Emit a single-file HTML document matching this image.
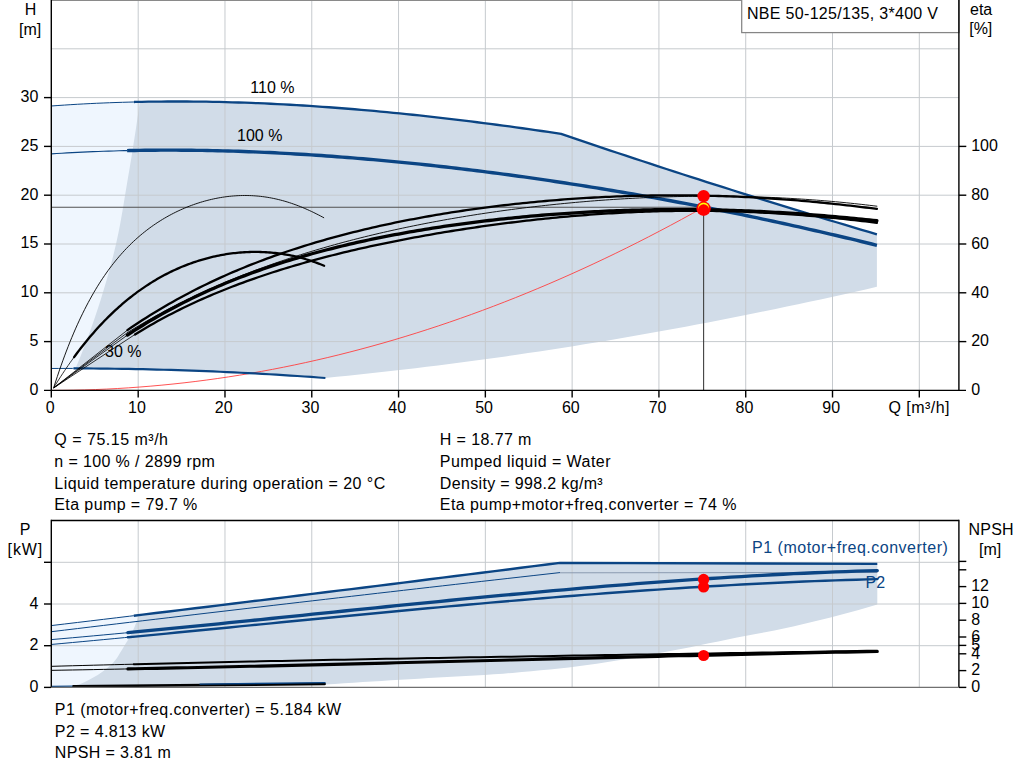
<!DOCTYPE html>
<html><head><meta charset="utf-8"><style>
html,body{margin:0;padding:0;background:#fff;width:1024px;height:781px;overflow:hidden;position:relative;font-family:"Liberation Sans",sans-serif;}
</style></head><body>
<svg width="1024" height="781" viewBox="0 0 1024 781" style="position:absolute;left:0;top:0">
<rect x="0" y="0" width="1024" height="781" fill="#fff"/>
<polygon points="51.50,105.97 57.95,105.51 64.40,105.08 70.85,104.67 77.30,104.28 83.75,103.92 90.20,103.59 96.65,103.28 103.11,103.00 109.56,102.74 116.01,102.51 122.46,102.30 128.91,102.12 135.36,101.96 141.81,101.82 148.26,101.71 150.00,368.60 51.50,368.60" fill="#eff6fe"/>
<polygon points="141.81,101.82 148.26,101.71 154.71,101.62 161.16,101.55 167.61,101.51 174.06,101.48 180.51,101.49 186.96,101.51 193.41,101.56 199.86,101.62 206.32,101.71 212.77,101.82 219.22,101.96 225.67,102.11 232.12,102.28 238.57,102.48 245.02,102.69 251.47,102.93 257.92,103.19 264.37,103.46 270.82,103.75 277.27,104.07 283.72,104.40 290.17,104.75 296.62,105.12 303.07,105.51 309.53,105.92 315.98,106.35 322.43,106.79 328.88,107.25 335.33,107.73 341.78,108.23 348.23,108.74 354.68,109.27 361.13,109.82 367.58,110.38 374.03,110.96 380.48,111.55 386.93,112.16 393.38,112.79 399.83,113.43 406.28,114.09 412.74,114.76 419.19,115.44 425.64,116.14 432.09,116.86 438.54,117.59 444.99,118.33 451.44,119.09 457.89,119.86 464.34,120.64 470.79,121.44 477.24,122.25 483.69,123.07 490.14,123.90 496.59,124.75 503.04,125.60 509.49,126.47 515.95,127.36 522.40,128.25 528.85,129.15 535.30,130.07 541.75,130.99 548.20,131.93 554.65,132.87 561.10,133.83 569.20,136.68 577.29,139.43 585.39,142.16 593.49,144.88 601.59,147.60 609.68,150.30 617.78,153.00 625.88,155.68 633.98,158.36 642.07,161.03 650.17,163.68 658.27,166.33 666.37,168.97 674.46,171.60 682.56,174.22 690.66,176.83 698.76,179.44 706.85,182.03 714.95,184.61 723.05,187.19 731.15,189.75 739.24,192.31 747.34,194.86 755.44,197.39 763.54,199.92 771.63,202.44 779.73,204.95 787.83,207.45 795.93,209.94 804.02,212.42 812.12,214.90 820.22,217.36 828.32,219.81 836.41,222.26 844.51,224.69 852.61,227.12 860.71,229.53 868.80,231.94 876.90,234.34 876.90,287.00 876.90,286.80 865.64,289.38 854.39,291.92 843.13,294.44 831.88,296.93 820.62,299.39 809.37,301.82 798.11,304.23 786.86,306.60 775.60,308.95 764.35,311.27 753.09,313.56 741.84,315.82 730.58,318.05 719.33,320.26 708.07,322.43 696.82,324.58 685.56,326.69 674.31,328.77 663.05,330.83 651.80,332.85 640.54,334.85 629.29,336.81 618.03,338.75 606.78,340.65 595.52,342.52 584.27,344.36 573.01,346.18 561.76,347.96 550.50,349.70 539.25,351.42 527.99,353.11 516.74,354.76 505.48,356.38 494.23,357.97 482.97,359.53 471.72,361.06 460.46,362.55 449.21,364.02 437.95,365.44 426.70,366.84 415.44,368.21 404.19,369.54 392.93,370.83 381.68,372.10 370.42,373.33 359.17,374.53 347.91,375.69 336.66,376.82 325.40,377.92 325.40,377.99 318.38,377.48 311.35,376.97 304.33,376.49 297.31,376.01 290.28,375.55 283.26,375.11 276.24,374.67 269.22,374.26 262.19,373.85 255.17,373.47 248.15,373.09 241.12,372.73 234.10,372.39 227.08,372.06 220.05,371.74 213.03,371.44 206.01,371.15 198.98,370.88 191.96,370.62 184.94,370.38 177.92,370.15 170.89,369.93 163.87,369.73 156.85,369.54 149.82,369.37 142.80,369.21 135.78,369.07 128.75,368.94 121.73,368.83 114.71,368.73 107.68,368.64 100.66,368.57 93.64,368.51 86.62,368.47 79.59,368.44 75.50,368.60 78.31,361.76 81.06,354.92 83.75,348.08 86.36,341.24 88.91,334.39 91.38,327.55 93.78,320.71 96.12,313.87 98.37,307.03 100.56,300.19 102.66,293.35 104.71,286.51 106.71,279.67 108.65,272.83 110.52,265.98 112.33,259.14 114.05,252.30 115.69,245.46 117.23,238.62 118.66,231.78 119.99,224.94 121.24,218.10 122.43,211.26 123.57,204.42 124.69,197.57 125.80,190.73 126.94,183.89 128.11,177.05 129.29,170.21 130.45,163.37 131.56,156.53 132.65,149.69 133.73,142.85 134.80,136.01 135.84,129.16 136.87,122.32 137.87,115.48 138.85,108.64 139.80,101.80" fill="#d1dce8"/>
<g stroke="#c6cace" stroke-width="1" fill="none"><line x1="138.19" y1="0" x2="138.19" y2="390" /><line x1="224.98" y1="0" x2="224.98" y2="390" /><line x1="311.77" y1="0" x2="311.77" y2="390" /><line x1="398.56" y1="0" x2="398.56" y2="390" /><line x1="485.35" y1="0" x2="485.35" y2="390" /><line x1="572.14" y1="0" x2="572.14" y2="390" /><line x1="658.93" y1="0" x2="658.93" y2="390" /><line x1="745.72" y1="0" x2="745.72" y2="390" /><line x1="832.51" y1="0" x2="832.51" y2="390" /><line x1="919.30" y1="0" x2="919.30" y2="390" /><line x1="51" y1="341.60" x2="959" y2="341.60" /><line x1="51" y1="292.80" x2="959" y2="292.80" /><line x1="51" y1="244.00" x2="959" y2="244.00" /><line x1="51" y1="195.20" x2="959" y2="195.20" /><line x1="51" y1="146.40" x2="959" y2="146.40" /><line x1="51" y1="97.60" x2="959" y2="97.60" /><line x1="51" y1="48.80" x2="959" y2="48.80" /></g>
<line x1="51" y1="0.5" x2="959" y2="0.5" stroke="#8a8a8a" stroke-width="1.1"/>
<polyline points="51.40,390.40 62.45,390.35 73.51,390.19 84.56,389.93 95.62,389.56 106.67,389.08 117.73,388.51 128.78,387.82 139.84,387.03 150.89,386.14 161.95,385.14 173.00,384.03 184.06,382.82 195.11,381.51 206.17,380.09 217.22,378.56 228.28,376.93 239.33,375.19 250.38,373.35 261.44,371.40 272.49,369.35 283.55,367.19 294.60,364.93 305.66,362.56 316.71,360.09 327.77,357.51 338.82,354.82 349.88,352.03 360.93,349.14 371.99,346.14 383.04,343.04 394.10,339.83 405.15,336.51 416.20,333.09 427.26,329.56 438.31,325.93 449.37,322.20 460.42,318.35 471.48,314.41 482.53,310.35 493.59,306.20 504.64,301.93 515.70,297.57 526.75,293.09 537.81,288.51 548.86,283.83 559.92,279.04 570.97,274.15 582.03,269.15 593.08,264.04 604.13,258.83 615.19,253.52 626.24,248.10 637.30,242.57 648.35,236.94 659.41,231.20 670.46,225.36 681.52,219.41 692.57,213.36 703.63,207.20" fill="none" stroke="#ff4040" stroke-width="0.9"/>
<line x1="51" y1="207.3" x2="703.5" y2="207.3" stroke="#505050" stroke-width="1.1"/>
<line x1="703.6" y1="207.3" x2="703.6" y2="390" stroke="#404040" stroke-width="1.1"/>
<polyline points="51.50,105.97 57.95,105.51 64.40,105.08 70.85,104.67 77.30,104.28 83.75,103.92 90.20,103.59 96.65,103.28 103.11,103.00 109.56,102.74 116.01,102.51 122.46,102.30 128.91,102.12 134.00,101.99" fill="none" stroke="#0b4584" stroke-width="1.0"/>
<polyline points="134.00,101.99 135.36,101.96 141.81,101.82 148.26,101.71 154.71,101.62 161.16,101.55 167.61,101.51 174.06,101.48 180.51,101.49 186.96,101.51 193.41,101.56 199.86,101.62 206.32,101.71 212.77,101.82 219.22,101.96 225.67,102.11 232.12,102.28 238.57,102.48 245.02,102.69 251.47,102.93 257.92,103.19 264.37,103.46 270.82,103.75 277.27,104.07 283.72,104.40 290.17,104.75 296.62,105.12 303.07,105.51 309.53,105.92 315.98,106.35 322.43,106.79 328.88,107.25 335.33,107.73 341.78,108.23 348.23,108.74 354.68,109.27 361.13,109.82 367.58,110.38 374.03,110.96 380.48,111.55 386.93,112.16 393.38,112.79 399.83,113.43 406.28,114.09 412.74,114.76 419.19,115.44 425.64,116.14 432.09,116.86 438.54,117.59 444.99,118.33 451.44,119.09 457.89,119.86 464.34,120.64 470.79,121.44 477.24,122.25 483.69,123.07 490.14,123.90 496.59,124.75 503.04,125.60 509.49,126.47 515.95,127.36 522.40,128.25 528.85,129.15 535.30,130.07 541.75,130.99 548.20,131.93 554.65,132.87 561.10,133.83 569.20,136.68 577.29,139.43 585.39,142.16 593.49,144.88 601.59,147.60 609.68,150.30 617.78,153.00 625.88,155.68 633.98,158.36 642.07,161.03 650.17,163.68 658.27,166.33 666.37,168.97 674.46,171.60 682.56,174.22 690.66,176.83 698.76,179.44 706.85,182.03 714.95,184.61 723.05,187.19 731.15,189.75 739.24,192.31 747.34,194.86 755.44,197.39 763.54,199.92 771.63,202.44 779.73,204.95 787.83,207.45 795.93,209.94 804.02,212.42 812.12,214.90 820.22,217.36 828.32,219.81 836.41,222.26 844.51,224.69 852.61,227.12 860.71,229.53 868.80,231.94 876.90,234.34" fill="none" stroke="#0b4584" stroke-width="2.3" stroke-linejoin="round"/>
<polyline points="51.50,153.84 56.69,153.51 61.88,153.19 67.07,152.90 72.26,152.62 77.46,152.35 82.65,152.10 87.84,151.87 93.03,151.65 98.22,151.45 103.41,151.26 108.60,151.09 113.79,150.93 118.99,150.79 124.18,150.66 127.10,150.60" fill="none" stroke="#0b4584" stroke-width="1.1"/>
<polyline points="127.10,150.60 129.37,150.55 134.56,150.45 139.75,150.36 144.94,150.29 150.13,150.24 155.32,150.20 160.52,150.17 165.71,150.15 170.90,150.15 176.09,150.16 181.28,150.19 186.47,150.23 191.66,150.28 196.85,150.34 202.04,150.42 207.24,150.51 212.43,150.62 217.62,150.73 222.81,150.86 228.00,151.00 233.19,151.16 238.38,151.32 243.57,151.50 248.77,151.69 253.96,151.90 259.15,152.11 264.34,152.34 269.53,152.57 274.72,152.82 279.91,153.08 285.10,153.36 290.29,153.64 295.49,153.93 300.68,154.24 305.87,154.56 311.06,154.88 316.25,155.22 321.44,155.57 326.63,155.93 331.82,156.31 337.02,156.69 342.21,157.08 347.40,157.48 352.59,157.90 357.78,158.32 362.97,158.75 368.16,159.20 373.35,159.65 378.55,160.11 383.74,160.59 388.93,161.07 394.12,161.57 399.31,162.07 404.50,162.58 409.69,163.11 414.88,163.64 420.07,164.18 425.27,164.73 430.46,165.29 435.65,165.86 440.84,166.44 446.03,167.03 451.22,167.63 456.41,168.24 461.60,168.85 466.80,169.48 471.99,170.11 477.18,170.75 482.37,171.41 487.56,172.07 492.75,172.74 497.94,173.42 503.13,174.10 508.33,174.80 513.52,175.50 518.71,176.22 523.90,176.94 529.09,177.67 534.28,178.41 539.47,179.16 544.66,179.91 549.85,180.68 555.05,181.45 560.24,182.23 565.43,183.02 570.62,183.82 575.81,184.62 581.00,185.44 586.19,186.26 591.38,187.09 596.58,187.93 601.77,188.78 606.96,189.63 612.15,190.50 617.34,191.37 622.53,192.25 627.72,193.14 632.91,194.03 638.11,194.94 643.30,195.85 648.49,196.77 653.68,197.70 658.87,198.63 664.06,199.58 669.25,200.53 674.44,201.49 679.63,202.46 684.83,203.43 690.02,204.42 695.21,205.41 700.40,206.41 705.59,207.42 710.78,208.44 715.97,209.46 721.16,210.49 726.36,211.54 731.55,212.58 736.74,213.64 741.93,214.71 747.12,215.78 752.31,216.86 757.50,217.95 762.69,219.05 767.88,220.15 773.08,221.27 778.27,222.39 783.46,223.52 788.65,224.66 793.84,225.81 799.03,226.96 804.22,228.12 809.41,229.30 814.61,230.48 819.80,231.66 824.99,232.86 830.18,234.07 835.37,235.28 840.56,236.50 845.75,237.73 850.94,238.97 856.14,240.22 861.33,241.48 866.52,242.74 871.71,244.02 876.90,245.30" fill="none" stroke="#0b4584" stroke-width="3.4"/>
<polyline points="51.50,368.47 58.52,368.44 65.55,368.43 72.57,368.43 73.50,368.43" fill="none" stroke="#0b4584" stroke-width="1.0"/>
<polyline points="73.50,368.43 79.59,368.44 86.62,368.47 93.64,368.51 100.66,368.57 107.68,368.64 114.71,368.73 121.73,368.83 128.75,368.94 135.78,369.07 142.80,369.21 149.82,369.37 156.85,369.54 163.87,369.73 170.89,369.93 177.92,370.15 184.94,370.38 191.96,370.62 198.98,370.88 206.01,371.15 213.03,371.44 220.05,371.74 227.08,372.06 234.10,372.39 241.12,372.73 248.15,373.09 255.17,373.47 262.19,373.85 269.22,374.26 276.24,374.67 283.26,375.11 290.28,375.55 297.31,376.01 304.33,376.49 311.35,376.97 318.38,377.48 325.40,377.99" fill="none" stroke="#0b4584" stroke-width="2.2"/>
<line x1="53.7" y1="387.9" x2="127.40" y2="330.14" stroke="#000" stroke-width="0.8"/>
<polyline points="127.40,330.14 131.17,327.56 134.93,325.02 138.70,322.53 142.47,320.07 146.23,317.66 150.00,315.29 153.76,312.96 157.53,310.67 161.30,308.42 165.06,306.20 168.83,304.03 172.60,301.89 176.36,299.78 180.13,297.72 183.89,295.68 187.66,293.68 191.43,291.72 195.19,289.79 198.96,287.89 202.73,286.02 206.49,284.19 210.26,282.38 214.03,280.61 217.79,278.86 221.56,277.15 225.32,275.46 229.09,273.80 232.86,272.17 236.62,270.57 240.39,269.00 244.16,267.45 247.92,265.92 251.69,264.43 255.46,262.95 259.22,261.51 262.99,260.08 266.75,258.68 270.52,257.30 274.29,255.95 278.05,254.62 281.82,253.31 285.59,252.02 289.35,250.76 293.12,249.51 296.88,248.29 300.65,247.09 304.42,245.90 308.18,244.74 311.95,243.60 315.72,242.47 319.48,241.36 323.25,240.28 327.02,239.21 330.78,238.15 334.55,237.12 338.31,236.10 342.08,235.10 345.85,234.12 349.61,233.15 353.38,232.20 357.15,231.26 360.91,230.35 364.68,229.44 368.45,228.55 372.21,227.68 375.98,226.82 379.74,225.98 383.51,225.15 387.28,224.33 391.04,223.53 394.81,222.74 398.58,221.97 402.34,221.21 406.11,220.46 409.87,219.73 413.64,219.01 417.41,218.30 421.17,217.60 424.94,216.92 428.71,216.25 432.47,215.59 436.24,214.95 440.01,214.31 443.77,213.69 447.54,213.08 451.30,212.48 455.07,211.89 458.84,211.32 462.60,210.75 466.37,210.20 470.14,209.65 473.90,209.12 477.67,208.60 481.44,208.09 485.20,207.59 488.97,207.10 492.73,206.62 496.50,206.16 500.27,205.70 504.03,205.25 507.80,204.81 511.57,204.39 515.33,203.97 519.10,203.57 522.86,203.17 526.63,202.78 530.40,202.41 534.16,202.04 537.93,201.69 541.70,201.34 545.46,201.00 549.23,200.68 553.00,200.36 556.76,200.05 560.53,199.76 564.29,199.47 568.06,199.19 571.83,198.92 575.59,198.67 579.36,198.42 583.13,198.18 586.89,197.95 590.66,197.73 594.43,197.52 598.19,197.32 601.96,197.13 605.72,196.95 609.49,196.78 613.26,196.61 617.02,196.46 620.79,196.32 624.56,196.19 628.32,196.06 632.09,195.95 635.85,195.84 639.62,195.75 643.39,195.66 647.15,195.59 650.92,195.52 654.69,195.47 658.45,195.42 662.22,195.38 665.99,195.36 669.75,195.34 673.52,195.33 677.28,195.33 681.05,195.34 684.82,195.36 688.58,195.39 692.35,195.44 696.12,195.49 699.88,195.54 703.65,195.61 707.42,195.69 711.18,195.78 714.95,195.88 718.71,195.99 722.48,196.11 726.25,196.23 730.01,196.37 733.78,196.52 737.55,196.67 741.31,196.84 745.08,197.01 748.84,197.20 752.61,197.39 756.38,197.60 760.14,197.81 763.91,198.03 767.68,198.27 771.44,198.51 775.21,198.76 778.98,199.02 782.74,199.29 786.51,199.57 790.27,199.86 794.04,200.16 797.81,200.47 801.57,200.78 805.34,201.11 809.11,201.44 812.87,201.79 816.64,202.14 820.41,202.50 824.17,202.87 827.94,203.25 831.70,203.64 835.47,204.04 839.24,204.44 843.00,204.85 846.77,205.28 850.54,205.71 854.30,206.14 858.07,206.59 861.83,207.04 865.60,207.51 869.37,207.98 873.13,208.45 876.90,208.94" fill="none" stroke="#000" stroke-width="2.3" stroke-linecap="round"/>
<line x1="53.7" y1="387.9" x2="127.40" y2="332.61" stroke="#000" stroke-width="0.8"/>
<polyline points="127.40,332.61 131.17,330.29 134.93,328.01 138.70,325.76 142.47,323.55 146.23,321.37 150.00,319.22 153.76,317.10 157.53,315.01 161.30,312.96 165.06,310.93 168.83,308.94 172.60,306.97 176.36,305.04 180.13,303.13 183.89,301.25 187.66,299.39 191.43,297.57 195.19,295.77 198.96,294.00 202.73,292.25 206.49,290.53 210.26,288.83 214.03,287.16 217.79,285.51 221.56,283.89 225.32,282.29 229.09,280.71 232.86,279.16 236.62,277.63 240.39,276.12 244.16,274.64 247.92,273.17 251.69,271.73 255.46,270.30 259.22,268.90 262.99,267.52 266.75,266.16 270.52,264.81 274.29,263.49 278.05,262.18 281.82,260.90 285.59,259.63 289.35,258.38 293.12,257.15 296.88,255.94 300.65,254.74 304.42,253.56 308.18,252.40 311.95,251.25 315.72,250.13 319.48,249.01 323.25,247.92 327.02,246.83 330.78,245.77 334.55,244.72 338.31,243.68 342.08,242.66 345.85,241.65 349.61,240.66 353.38,239.69 357.15,238.72 360.91,237.77 364.68,236.84 368.45,235.91 372.21,235.01 375.98,234.11 379.74,233.23 383.51,232.36 387.28,231.50 391.04,230.65 394.81,229.82 398.58,229.00 402.34,228.19 406.11,227.40 409.87,226.61 413.64,225.84 417.41,225.08 421.17,224.33 424.94,223.59 428.71,222.86 432.47,222.15 436.24,221.44 440.01,220.75 443.77,220.07 447.54,219.39 451.30,218.73 455.07,218.08 458.84,217.44 462.60,216.81 466.37,216.19 470.14,215.58 473.90,214.98 477.67,214.39 481.44,213.81 485.20,213.24 488.97,212.68 492.73,212.13 496.50,211.58 500.27,211.05 504.03,210.53 507.80,210.02 511.57,209.52 515.33,209.03 519.10,208.54 522.86,208.07 526.63,207.60 530.40,207.15 534.16,206.70 537.93,206.27 541.70,205.84 545.46,205.42 549.23,205.01 553.00,204.61 556.76,204.22 560.53,203.84 564.29,203.47 568.06,203.11 571.83,202.75 575.59,202.41 579.36,202.07 583.13,201.75 586.89,201.43 590.66,201.12 594.43,200.82 598.19,200.53 601.96,200.25 605.72,199.98 609.49,199.72 613.26,199.47 617.02,199.22 620.79,198.99 624.56,198.76 628.32,198.55 632.09,198.34 635.85,198.14 639.62,197.95 643.39,197.77 647.15,197.60 650.92,197.44 654.69,197.29 658.45,197.15 662.22,197.02 665.99,196.90 669.75,196.78 673.52,196.68 677.28,196.59 681.05,196.50 684.82,196.43 688.58,196.36 692.35,196.31 696.12,196.26 699.88,196.23 703.65,196.20 707.42,196.18 711.18,196.18 714.95,196.18 718.71,196.19 722.48,196.22 726.25,196.25 730.01,196.29 733.78,196.35 737.55,196.41 741.31,196.48 745.08,196.57 748.84,196.66 752.61,196.77 756.38,196.88 760.14,197.01 763.91,197.14 767.68,197.29 771.44,197.45 775.21,197.61 778.98,197.79 782.74,197.98 786.51,198.18 790.27,198.39 794.04,198.61 797.81,198.84 801.57,199.08 805.34,199.33 809.11,199.59 812.87,199.87 816.64,200.15 820.41,200.45 824.17,200.75 827.94,201.07 831.70,201.40 835.47,201.74 839.24,202.09 843.00,202.45 846.77,202.82 850.54,203.20 854.30,203.60 858.07,204.01 861.83,204.42 865.60,204.85 869.37,205.29 873.13,205.74 876.90,206.20" fill="none" stroke="#000" stroke-width="0.9" stroke-linecap="round"/>
<line x1="53.7" y1="387.9" x2="127.40" y2="335.13" stroke="#000" stroke-width="0.8"/>
<polyline points="127.40,335.13 131.17,332.65 134.93,330.23 138.70,327.85 142.47,325.50 146.23,323.21 150.00,320.95 153.76,318.73 157.53,316.55 161.30,314.41 165.06,312.31 168.83,310.24 172.60,308.22 176.36,306.23 180.13,304.27 183.89,302.35 187.66,300.46 191.43,298.61 195.19,296.79 198.96,295.00 202.73,293.24 206.49,291.52 210.26,289.82 214.03,288.16 217.79,286.52 221.56,284.91 225.32,283.34 229.09,281.79 232.86,280.26 236.62,278.77 240.39,277.30 244.16,275.85 247.92,274.43 251.69,273.04 255.46,271.67 259.22,270.33 262.99,269.00 266.75,267.71 270.52,266.43 274.29,265.18 278.05,263.94 281.82,262.73 285.59,261.54 289.35,260.38 293.12,259.23 296.88,258.10 300.65,256.99 304.42,255.90 308.18,254.83 311.95,253.78 315.72,252.74 319.48,251.73 323.25,250.73 327.02,249.75 330.78,248.78 334.55,247.83 338.31,246.90 342.08,245.99 345.85,245.09 349.61,244.20 353.38,243.33 357.15,242.48 360.91,241.64 364.68,240.82 368.45,240.01 372.21,239.21 375.98,238.43 379.74,237.66 383.51,236.90 387.28,236.16 391.04,235.43 394.81,234.72 398.58,234.01 402.34,233.32 406.11,232.64 409.87,231.97 413.64,231.32 417.41,230.68 421.17,230.04 424.94,229.42 428.71,228.82 432.47,228.22 436.24,227.63 440.01,227.05 443.77,226.49 447.54,225.93 451.30,225.39 455.07,224.86 458.84,224.33 462.60,223.82 466.37,223.32 470.14,222.82 473.90,222.34 477.67,221.87 481.44,221.40 485.20,220.95 488.97,220.50 492.73,220.07 496.50,219.64 500.27,219.23 504.03,218.82 507.80,218.42 511.57,218.03 515.33,217.65 519.10,217.28 522.86,216.92 526.63,216.57 530.40,216.23 534.16,215.89 537.93,215.57 541.70,215.25 545.46,214.94 549.23,214.64 553.00,214.35 556.76,214.07 560.53,213.80 564.29,213.53 568.06,213.28 571.83,213.03 575.59,212.79 579.36,212.56 583.13,212.34 586.89,212.12 590.66,211.92 594.43,211.72 598.19,211.54 601.96,211.36 605.72,211.19 609.49,211.02 613.26,210.87 617.02,210.73 620.79,210.59 624.56,210.46 628.32,210.34 632.09,210.23 635.85,210.13 639.62,210.03 643.39,209.95 647.15,209.87 650.92,209.80 654.69,209.74 658.45,209.69 662.22,209.65 665.99,209.61 669.75,209.59 673.52,209.57 677.28,209.56 681.05,209.56 684.82,209.57 688.58,209.59 692.35,209.61 696.12,209.64 699.88,209.69 703.65,209.74 707.42,209.80 711.18,209.86 714.95,209.94 718.71,210.02 722.48,210.12 726.25,210.22 730.01,210.33 733.78,210.45 737.55,210.57 741.31,210.71 745.08,210.85 748.84,211.00 752.61,211.16 756.38,211.33 760.14,211.51 763.91,211.69 767.68,211.89 771.44,212.09 775.21,212.30 778.98,212.51 782.74,212.74 786.51,212.97 790.27,213.21 794.04,213.46 797.81,213.72 801.57,213.98 805.34,214.25 809.11,214.53 812.87,214.82 816.64,215.11 820.41,215.42 824.17,215.73 827.94,216.04 831.70,216.37 835.47,216.70 839.24,217.03 843.00,217.38 846.77,217.73 850.54,218.09 854.30,218.45 858.07,218.82 861.83,219.20 865.60,219.58 869.37,219.97 873.13,220.36 876.90,220.76" fill="none" stroke="#000" stroke-width="3.3" stroke-linecap="round"/>
<line x1="53.7" y1="387.9" x2="135.00" y2="334.45" stroke="#000" stroke-width="0.8"/>
<polyline points="135.00,334.45 138.73,332.17 142.46,329.92 146.18,327.72 149.91,325.56 153.64,323.44 157.37,321.36 161.10,319.31 164.83,317.31 168.55,315.34 172.28,313.40 176.01,311.50 179.74,309.64 183.47,307.81 187.19,306.01 190.92,304.25 194.65,302.51 198.38,300.81 202.11,299.14 205.83,297.49 209.56,295.88 213.29,294.29 217.02,292.73 220.75,291.20 224.48,289.70 228.20,288.22 231.93,286.76 235.66,285.33 239.39,283.93 243.12,282.55 246.84,281.19 250.57,279.85 254.30,278.54 258.03,277.24 261.76,275.97 265.48,274.72 269.21,273.49 272.94,272.28 276.67,271.08 280.40,269.91 284.13,268.76 287.85,267.62 291.58,266.50 295.31,265.40 299.04,264.31 302.77,263.24 306.49,262.19 310.22,261.16 313.95,260.13 317.68,259.13 321.41,258.14 325.14,257.16 328.86,256.20 332.59,255.25 336.32,254.31 340.05,253.39 343.78,252.49 347.50,251.59 351.23,250.71 354.96,249.84 358.69,248.98 362.42,248.13 366.14,247.30 369.87,246.48 373.60,245.67 377.33,244.87 381.06,244.08 384.79,243.30 388.51,242.53 392.24,241.77 395.97,241.03 399.70,240.29 403.43,239.57 407.15,238.85 410.88,238.14 414.61,237.45 418.34,236.76 422.07,236.08 425.79,235.41 429.52,234.76 433.25,234.11 436.98,233.47 440.71,232.84 444.44,232.21 448.16,231.60 451.89,231.00 455.62,230.40 459.35,229.81 463.08,229.24 466.80,228.67 470.53,228.11 474.26,227.55 477.99,227.01 481.72,226.48 485.45,225.95 489.17,225.43 492.90,224.92 496.63,224.42 500.36,223.93 504.09,223.45 507.81,222.97 511.54,222.50 515.27,222.05 519.00,221.60 522.73,221.16 526.45,220.72 530.18,220.30 533.91,219.89 537.64,219.48 541.37,219.08 545.10,218.69 548.82,218.31 552.55,217.94 556.28,217.58 560.01,217.23 563.74,216.88 567.46,216.55 571.19,216.22 574.92,215.90 578.65,215.59 582.38,215.30 586.11,215.01 589.83,214.72 593.56,214.45 597.29,214.19 601.02,213.94 604.75,213.69 608.47,213.46 612.20,213.24 615.93,213.02 619.66,212.82 623.39,212.62 627.11,212.44 630.84,212.26 634.57,212.09 638.30,211.94 642.03,211.79 645.76,211.65 649.48,211.53 653.21,211.41 656.94,211.31 660.67,211.21 664.40,211.12 668.12,211.05 671.85,210.98 675.58,210.93 679.31,210.88 683.04,210.85 686.76,210.83 690.49,210.81 694.22,210.81 697.95,210.82 701.68,210.83 705.41,210.86 709.13,210.90 712.86,210.95 716.59,211.01 720.32,211.08 724.05,211.16 727.77,211.25 731.50,211.35 735.23,211.46 738.96,211.58 742.69,211.72 746.42,211.86 750.14,212.01 753.87,212.17 757.60,212.35 761.33,212.53 765.06,212.73 768.78,212.93 772.51,213.14 776.24,213.37 779.97,213.60 783.70,213.84 787.42,214.10 791.15,214.36 794.88,214.63 798.61,214.91 802.34,215.21 806.07,215.51 809.79,215.81 813.52,216.13 817.25,216.46 820.98,216.80 824.71,217.14 828.43,217.49 832.16,217.85 835.89,218.22 839.62,218.60 843.35,218.98 847.07,219.37 850.80,219.77 854.53,220.18 858.26,220.59 861.99,221.01 865.72,221.44 869.44,221.87 873.17,222.31 876.90,222.75" fill="none" stroke="#000" stroke-width="2.3" stroke-linecap="round"/>
<polyline points="53.70,387.72 55.51,382.04 57.33,376.51 59.14,371.13 60.96,365.90 62.77,360.81 64.59,355.86 66.40,351.05 68.22,346.37 70.03,341.81 71.85,337.38 73.66,333.08 75.48,328.89 77.29,324.81 79.11,320.85 80.92,317.00 82.74,313.26 84.55,309.61 86.37,306.07 88.18,302.63 90.00,299.28 91.81,296.02 93.62,292.85 95.44,289.77 97.25,286.78 99.07,283.86 100.88,281.03 102.70,278.28 104.51,275.60 106.33,272.99 108.14,270.46 109.96,267.99 111.77,265.59 113.59,263.26 115.40,260.99 117.22,258.79 119.03,256.64 120.85,254.55 122.66,252.52 124.48,250.54 126.29,248.62 128.11,246.74 129.92,244.92 131.73,243.15 133.55,241.42 135.36,239.75 137.18,238.11 138.99,236.52 140.81,234.97 142.62,233.47 144.44,232.00 146.25,230.58 148.07,229.19 149.88,227.84 151.70,226.52 153.51,225.24 155.33,224.00 157.14,222.79 158.96,221.61 160.77,220.47 162.59,219.35 164.40,218.27 166.22,217.21 168.03,216.19 169.84,215.20 171.66,214.23 173.47,213.29 175.29,212.38 177.10,211.49 178.92,210.64 180.73,209.80 182.55,209.00 184.36,208.22 186.18,207.46 187.99,206.73 189.81,206.02 191.62,205.34 193.44,204.68 195.25,204.04 197.07,203.43 198.88,202.84 200.70,202.28 202.51,201.73 204.33,201.21 206.14,200.72 207.96,200.24 209.77,199.79 211.58,199.36 213.40,198.95 215.21,198.57 217.03,198.21 218.84,197.87 220.66,197.55 222.47,197.26 224.29,196.98 226.10,196.73 227.92,196.51 229.73,196.30 231.55,196.12 233.36,195.96 235.18,195.83 236.99,195.71 238.81,195.62 240.62,195.55 242.44,195.51 244.25,195.49 246.07,195.49 247.88,195.52 249.69,195.57 251.51,195.64 253.32,195.74 255.14,195.86 256.95,196.00 258.77,196.17 260.58,196.36 262.40,196.58 264.21,196.82 266.03,197.08 267.84,197.37 269.66,197.68 271.47,198.02 273.29,198.38 275.10,198.77 276.92,199.18 278.73,199.61 280.55,200.07 282.36,200.55 284.18,201.05 285.99,201.58 287.80,202.14 289.62,202.71 291.43,203.32 293.25,203.94 295.06,204.59 296.88,205.26 298.69,205.95 300.51,206.67 302.32,207.41 304.14,208.17 305.95,208.95 307.77,209.75 309.58,210.58 311.40,211.42 313.21,212.29 315.03,213.18 316.84,214.08 318.66,215.01 320.47,215.95 322.29,216.91 324.10,217.89" fill="none" stroke="#000" stroke-width="0.9"/>
<polyline points="53.70,387.90 53.70,387.74 55.51,384.78 57.33,381.88 59.14,379.02 60.96,376.20 62.77,373.43 64.59,370.70 66.40,368.02 68.22,365.38 70.03,362.78 71.85,360.22 73.66,357.71 74.10,357.11" fill="none" stroke="#000" stroke-width="0.8"/>
<polyline points="74.10,357.11 75.48,355.23 77.29,352.80 79.11,350.40 80.92,348.05 82.74,345.73 84.55,343.45 86.37,341.22 88.18,339.01 90.00,336.85 91.81,334.72 93.62,332.63 95.44,330.57 97.25,328.55 99.07,326.57 100.88,324.61 102.70,322.70 104.51,320.81 106.33,318.96 108.14,317.14 109.96,315.36 111.77,313.61 113.59,311.88 115.40,310.19 117.22,308.53 119.03,306.90 120.85,305.30 122.66,303.73 124.48,302.19 126.29,300.68 128.11,299.20 129.92,297.74 131.73,296.32 133.55,294.92 135.36,293.55 137.18,292.20 138.99,290.88 140.81,289.59 142.62,288.33 144.44,287.09 146.25,285.87 148.07,284.68 149.88,283.52 151.70,282.38 153.51,281.27 155.33,280.17 157.14,279.11 158.96,278.06 160.77,277.04 162.59,276.05 164.40,275.07 166.22,274.12 168.03,273.19 169.84,272.29 171.66,271.40 173.47,270.54 175.29,269.70 177.10,268.88 178.92,268.08 180.73,267.30 182.55,266.54 184.36,265.81 186.18,265.09 187.99,264.40 189.81,263.72 191.62,263.07 193.44,262.43 195.25,261.81 197.07,261.22 198.88,260.64 200.70,260.08 202.51,259.54 204.33,259.03 206.14,258.52 207.96,258.04 209.77,257.58 211.58,257.14 213.40,256.71 215.21,256.30 217.03,255.91 218.84,255.54 220.66,255.19 222.47,254.86 224.29,254.54 226.10,254.24 227.92,253.96 229.73,253.70 231.55,253.46 233.36,253.23 235.18,253.02 236.99,252.83 238.81,252.66 240.62,252.51 242.44,252.37 244.25,252.25 246.07,252.15 247.88,252.07 249.69,252.01 251.51,251.96 253.32,251.93 255.14,251.92 256.95,251.93 258.77,251.95 260.58,252.00 262.40,252.06 264.21,252.14 266.03,252.24 267.84,252.35 269.66,252.49 271.47,252.64 273.29,252.81 275.10,253.01 276.92,253.22 278.73,253.44 280.55,253.69 282.36,253.96 284.18,254.25 285.99,254.55 287.80,254.88 289.62,255.23 291.43,255.59 293.25,255.98 295.06,256.38 296.88,256.81 298.69,257.26 300.51,257.72 302.32,258.21 304.14,258.72 305.95,259.25 307.77,259.80 309.58,260.38 311.40,260.97 313.21,261.59 315.03,262.23 316.84,262.90 318.66,263.58 320.47,264.29 322.29,265.02 324.10,265.78" fill="none" stroke="#000" stroke-width="2.3" stroke-linecap="round"/>
<circle cx="703.6" cy="208.6" r="7.2" fill="#f00"/>
<circle cx="703.6" cy="207.8" r="5.4" fill="#ff0"/>
<circle cx="703.6" cy="209.9" r="5.6" fill="#f00"/>
<circle cx="703.6" cy="196.1" r="6.2" fill="#f00"/>
<rect x="741.7" y="-1" width="217.3" height="33.6" fill="#fff" stroke="#858585" stroke-width="1.25"/>
<g stroke="#000" stroke-width="1.4" fill="none">
<line x1="51.3" y1="0" x2="51.3" y2="397.5"/>
<line x1="44" y1="390.4" x2="966" y2="390.4"/>
<line x1="958.9" y1="0" x2="958.9" y2="390.4"/>
<line x1="44" y1="341.60" x2="51.4" y2="341.60"/>
<line x1="44" y1="292.80" x2="51.4" y2="292.80"/>
<line x1="44" y1="244.00" x2="51.4" y2="244.00"/>
<line x1="44" y1="195.20" x2="51.4" y2="195.20"/>
<line x1="44" y1="146.40" x2="51.4" y2="146.40"/>
<line x1="44" y1="97.60" x2="51.4" y2="97.60"/>
<line x1="958.9" y1="341.60" x2="966.3" y2="341.60"/>
<line x1="958.9" y1="292.80" x2="966.3" y2="292.80"/>
<line x1="958.9" y1="244.00" x2="966.3" y2="244.00"/>
<line x1="958.9" y1="195.20" x2="966.3" y2="195.20"/>
<line x1="958.9" y1="146.40" x2="966.3" y2="146.40"/>
<line x1="138.19" y1="390" x2="138.19" y2="397.5"/>
<line x1="224.98" y1="390" x2="224.98" y2="397.5"/>
<line x1="311.77" y1="390" x2="311.77" y2="397.5"/>
<line x1="398.56" y1="390" x2="398.56" y2="397.5"/>
<line x1="485.35" y1="390" x2="485.35" y2="397.5"/>
<line x1="572.14" y1="390" x2="572.14" y2="397.5"/>
<line x1="658.93" y1="390" x2="658.93" y2="397.5"/>
<line x1="745.72" y1="390" x2="745.72" y2="397.5"/>
<line x1="832.51" y1="390" x2="832.51" y2="397.5"/>
<line x1="919.30" y1="390" x2="919.30" y2="397.5"/>
</g>
<g font-family="Liberation Sans, sans-serif" font-size="16">
<text x="24.8" y="14.8" fill="#000" >H</text>
<text x="19.1" y="34.5" fill="#000" >[m]</text>
<text x="38.3" y="394.70" text-anchor="end" fill="#000" >0</text>
<text x="38.3" y="345.90" text-anchor="end" fill="#000" >5</text>
<text x="38.3" y="297.10" text-anchor="end" fill="#000" >10</text>
<text x="38.3" y="248.30" text-anchor="end" fill="#000" >15</text>
<text x="38.3" y="199.50" text-anchor="end" fill="#000" >20</text>
<text x="38.3" y="150.70" text-anchor="end" fill="#000" >25</text>
<text x="38.3" y="101.90" text-anchor="end" fill="#000" >30</text>
<text x="970" y="14.6" fill="#000" >eta</text>
<text x="969.2" y="34.3" fill="#000" >[%]</text>
<text x="971.2" y="395.20" fill="#000" >0</text>
<text x="971.2" y="346.40" fill="#000" >20</text>
<text x="971.2" y="297.60" fill="#000" >40</text>
<text x="971.2" y="248.80" fill="#000" >60</text>
<text x="971.2" y="200.00" fill="#000" >80</text>
<text x="971.2" y="151.20" fill="#000" >100</text>
<text x="50.10" y="413" text-anchor="middle" fill="#000" >0</text>
<text x="136.89" y="413" text-anchor="middle" fill="#000" >10</text>
<text x="223.68" y="413" text-anchor="middle" fill="#000" >20</text>
<text x="310.47" y="413" text-anchor="middle" fill="#000" >30</text>
<text x="397.26" y="413" text-anchor="middle" fill="#000" >40</text>
<text x="484.05" y="413" text-anchor="middle" fill="#000" >50</text>
<text x="570.84" y="413" text-anchor="middle" fill="#000" >60</text>
<text x="657.63" y="413" text-anchor="middle" fill="#000" >70</text>
<text x="744.42" y="413" text-anchor="middle" fill="#000" >80</text>
<text x="831.21" y="413" text-anchor="middle" fill="#000" >90</text>
<text x="888.5" y="413" textLength="61" lengthAdjust="spacing" fill="#000" >Q [m³/h]</text>
<text x="250.3" y="92.7" fill="#000" >110 %</text>
<text x="237.0" y="140.7" fill="#000" >100 %</text>
<text x="105" y="357" fill="#000" >30 %</text>
</g>
<g font-family="Liberation Sans, sans-serif" font-size="16">
<text x="747.0" y="19.3" textLength="191.0" lengthAdjust="spacing" fill="#000" >NBE 50-125/135, 3*400 V</text>
<text x="54.3" y="445.4" textLength="113.7" lengthAdjust="spacing" fill="#000" >Q = 75.15 m³/h</text>
<text x="54.3" y="467.0" textLength="160.6" lengthAdjust="spacing" fill="#000" >n = 100 % / 2899 rpm</text>
<text x="54.3" y="488.7" textLength="330.9" lengthAdjust="spacing" fill="#000" >Liquid temperature during operation = 20 °C</text>
<text x="54.3" y="510.0" textLength="143" lengthAdjust="spacing" fill="#000" >Eta pump = 79.7 %</text>
<text x="439.8" y="445.4" textLength="91.6" lengthAdjust="spacing" fill="#000" >H = 18.77 m</text>
<text x="439.8" y="467.0" textLength="170.7" lengthAdjust="spacing" fill="#000" >Pumped liquid = Water</text>
<text x="439.8" y="488.7" textLength="162.9" lengthAdjust="spacing" fill="#000" >Density = 998.2 kg/m³</text>
<text x="439.8" y="510.0" textLength="296.6" lengthAdjust="spacing" fill="#000" >Eta pump+motor+freq.converter = 74 %</text>
</g>
<polygon points="51.50,625.56 64.54,624.00 77.58,622.44 90.62,620.88 103.65,619.32 116.69,617.75 129.73,616.18 142.77,614.61 145.00,687.00 51.50,687.00" fill="#eff6fe"/>
<polygon points="142.77,614.61 155.81,613.03 168.85,611.45 181.88,609.87 194.92,608.29 207.96,606.70 221.00,605.11 234.04,603.52 247.08,601.92 260.12,600.33 273.15,598.73 286.19,597.12 299.23,595.52 312.27,593.91 325.31,592.30 338.35,590.68 351.38,589.07 364.42,587.45 377.46,585.83 390.50,584.20 403.54,582.57 416.58,580.94 429.62,579.31 442.65,577.67 455.69,576.04 468.73,574.39 481.77,572.75 494.81,571.10 507.85,569.45 520.88,567.80 533.92,566.15 546.96,564.49 560.00,562.83 877.30,563.90 877.30,604.70 877.30,604.60 867.95,607.29 858.59,609.92 849.24,612.48 839.88,614.97 830.53,617.38 821.17,619.73 811.82,622.04 802.47,624.28 793.11,626.45 783.76,628.51 774.40,630.44 765.05,632.23 755.69,633.96 746.34,635.72 736.99,637.56 727.63,639.46 718.28,641.39 708.92,643.32 699.57,645.26 690.22,647.16 680.86,649.02 671.51,650.82 662.15,652.53 652.80,654.21 643.44,655.89 634.09,657.56 624.74,659.19 615.38,660.77 606.03,662.28 596.67,663.72 587.32,665.05 577.96,666.27 568.61,667.38 559.26,668.42 549.90,669.42 540.55,670.36 531.19,671.26 521.84,672.11 512.48,672.90 503.13,673.65 493.78,674.34 484.42,674.98 475.07,675.55 465.71,676.05 456.36,676.53 447.01,677.01 437.65,677.54 428.30,678.08 418.94,678.64 409.59,679.20 400.23,679.76 390.88,680.34 381.53,680.92 372.17,681.51 362.82,682.11 353.46,682.72 344.11,683.34 334.75,683.96 325.40,684.60 73.70,687.00 73.70,687.00 79.19,684.58 84.37,682.15 89.21,679.73 93.67,677.30 97.73,674.88 101.38,672.46 104.77,670.03 107.89,667.61 110.71,665.18 113.16,662.76 115.21,660.33 116.96,657.91 118.52,655.49 119.97,653.06 121.41,650.64 122.90,648.21 124.40,645.79 125.90,643.37 127.36,640.94 128.78,638.52 130.15,636.09 131.43,633.67 132.63,631.24 133.72,628.82 134.75,626.40 135.71,623.97 136.61,621.55 137.44,619.12 138.20,616.70" fill="#d1dce8"/>
<g stroke="#c6cace" stroke-width="1" fill="none"><line x1="138.19" y1="520" x2="138.19" y2="687" /><line x1="224.98" y1="520" x2="224.98" y2="687" /><line x1="311.77" y1="520" x2="311.77" y2="687" /><line x1="398.56" y1="520" x2="398.56" y2="687" /><line x1="485.35" y1="520" x2="485.35" y2="687" /><line x1="572.14" y1="520" x2="572.14" y2="687" /><line x1="658.93" y1="520" x2="658.93" y2="687" /><line x1="745.72" y1="520" x2="745.72" y2="687" /><line x1="832.51" y1="520" x2="832.51" y2="687" /><line x1="919.30" y1="520" x2="919.30" y2="687" /><line x1="51" y1="645.70" x2="959" y2="645.70" /><line x1="51" y1="604.00" x2="959" y2="604.00" /><line x1="51" y1="562.30" x2="959" y2="562.30" /></g>
<polyline points="51.50,625.56 64.54,624.00 77.58,622.44 90.62,620.88 103.65,619.32 116.69,617.75 129.73,616.18 133.80,615.69" fill="none" stroke="#0b4584" stroke-width="1.0"/>
<polyline points="133.80,615.69 142.77,614.61 155.81,613.03 168.85,611.45 181.88,609.87 194.92,608.29 207.96,606.70 221.00,605.11 234.04,603.52 247.08,601.92 260.12,600.33 273.15,598.73 286.19,597.12 299.23,595.52 312.27,593.91 325.31,592.30 338.35,590.68 351.38,589.07 364.42,587.45 377.46,585.83 390.50,584.20 403.54,582.57 416.58,580.94 429.62,579.31 442.65,577.67 455.69,576.04 468.73,574.39 481.77,572.75 494.81,571.10 507.85,569.45 520.88,567.80 533.92,566.15 546.96,564.49 560.00,562.83 877.30,563.90" fill="none" stroke="#0b4584" stroke-width="2.4" stroke-linejoin="round"/>
<polyline points="51.50,631.68 64.54,630.11 77.58,628.55 90.62,626.98 103.65,625.42 116.69,623.86 129.73,622.31 142.77,620.76 155.81,619.21 168.85,617.66 181.88,616.11 194.92,614.57 207.96,613.03 221.00,611.50 234.04,609.97 247.08,608.44 260.12,606.91 273.15,605.39 286.19,603.86 299.23,602.35 312.27,600.83 325.31,599.32 338.35,597.81 351.38,596.30 364.42,594.80 377.46,593.29 390.50,591.80 403.54,590.30 416.58,588.81 429.62,587.32 442.65,585.83 455.69,584.35 468.73,582.87 481.77,581.39 494.81,579.91 507.85,578.44 520.88,576.97 533.92,575.50 546.96,574.04 560.00,572.58" fill="none" stroke="#0b4584" stroke-width="1.0"/>
<line x1="560" y1="572.8" x2="877.3" y2="572.5" stroke="#8a9ab0" stroke-width="1.0"/>
<polyline points="51.50,639.59 61.95,638.68 72.41,637.76 82.86,636.82 93.31,635.87 103.77,634.92 114.22,633.95 124.67,632.97 127.90,632.66" fill="none" stroke="#0b4584" stroke-width="1.0"/>
<polyline points="127.90,632.66 135.13,631.98 145.58,630.98 156.03,629.97 166.48,628.96 176.94,627.94 187.39,626.91 197.84,625.87 208.30,624.83 218.75,623.78 229.20,622.73 239.66,621.68 250.11,620.62 260.56,619.56 271.02,618.49 281.47,617.42 291.92,616.35 302.38,615.28 312.83,614.21 323.28,613.14 333.74,612.07 344.19,611.01 354.64,609.94 365.09,608.87 375.55,607.81 386.00,606.75 396.45,605.70 406.91,604.65 417.36,603.60 427.81,602.56 438.27,601.53 448.72,600.50 459.17,599.48 469.63,598.46 480.08,597.46 490.53,596.46 500.99,595.47 511.44,594.50 521.89,593.53 532.35,592.57 542.80,591.63 553.25,590.69 563.71,589.77 574.16,588.86 584.61,587.97 595.06,587.09 605.52,586.22 615.97,585.37 626.42,584.53 636.88,583.71 647.33,582.91 657.78,582.13 668.24,581.36 678.69,580.61 689.14,579.88 699.60,579.17 710.05,578.48 720.50,577.80 730.96,577.15 741.41,576.53 751.86,575.92 762.32,575.34 772.77,574.77 783.22,574.24 793.67,573.72 804.13,573.24 814.58,572.77 825.03,572.34 835.49,571.93 845.94,571.54 856.39,571.19 866.85,570.86 877.30,570.56" fill="none" stroke="#0b4584" stroke-width="3.3" stroke-linecap="round"/>
<polyline points="51.50,644.45 61.95,643.49 72.41,642.53 82.86,641.55 93.31,640.57 103.77,639.59 114.22,638.60 124.67,637.60 127.90,637.29" fill="none" stroke="#0b4584" stroke-width="1.0"/>
<polyline points="127.90,637.29 135.13,636.60 145.58,635.59 156.03,634.58 166.48,633.57 176.94,632.55 187.39,631.53 197.84,630.51 208.30,629.49 218.75,628.46 229.20,627.44 239.66,626.41 250.11,625.38 260.56,624.36 271.02,623.33 281.47,622.30 291.92,621.28 302.38,620.26 312.83,619.24 323.28,618.22 333.74,617.21 344.19,616.20 354.64,615.19 365.09,614.19 375.55,613.19 386.00,612.20 396.45,611.22 406.91,610.24 417.36,609.26 427.81,608.30 438.27,607.34 448.72,606.38 459.17,605.44 469.63,604.51 480.08,603.58 490.53,602.66 500.99,601.76 511.44,600.86 521.89,599.97 532.35,599.10 542.80,598.23 553.25,597.38 563.71,596.54 574.16,595.71 584.61,594.90 595.06,594.10 605.52,593.31 615.97,592.54 626.42,591.78 636.88,591.04 647.33,590.32 657.78,589.61 668.24,588.91 678.69,588.23 689.14,587.57 699.60,586.93 710.05,586.31 720.50,585.70 730.96,585.12 741.41,584.55 751.86,584.00 762.32,583.47 772.77,582.97 783.22,582.48 793.67,582.02 804.13,581.57 814.58,581.15 825.03,580.76 835.49,580.38 845.94,580.03 856.39,579.71 866.85,579.40 877.30,579.13" fill="none" stroke="#0b4584" stroke-width="2.4" stroke-linecap="round"/>
<polyline points="51.50,666.33 61.95,666.04 72.41,665.76 82.86,665.49 93.31,665.21 103.77,664.94 114.22,664.68 124.67,664.42 133.80,664.19" fill="none" stroke="#000" stroke-width="1.0"/>
<polyline points="133.80,664.19 135.13,664.16 145.58,663.90 156.03,663.65 166.48,663.41 176.94,663.16 187.39,662.92 197.84,662.68 208.30,662.45 218.75,662.21 229.20,661.99 239.66,661.76 250.11,661.54 260.56,661.32 271.02,661.10 281.47,660.88 291.92,660.67 302.38,660.46 312.83,660.25 323.28,660.05 333.74,659.84 344.19,659.64 354.64,659.44 365.09,659.24 375.55,659.05 386.00,658.86 396.45,658.67 406.91,658.48 417.36,658.29 427.81,658.10 438.27,657.92 448.72,657.73 459.17,657.55 469.63,657.37 480.08,657.19 490.53,657.01 500.99,656.84 511.44,656.66 521.89,656.49 532.35,656.31 542.80,656.14 553.25,655.97 563.71,655.80 574.16,655.62 584.61,655.45 595.06,655.28 605.52,655.11 615.97,654.95 626.42,654.78 636.88,654.61 647.33,654.44 657.78,654.27 668.24,654.10 678.69,653.93 689.14,653.77 699.60,653.60 710.05,653.43 720.50,653.26 730.96,653.09 741.41,652.92 751.86,652.75 762.32,652.57 772.77,652.40 783.22,652.23 793.67,652.06 804.13,651.88 814.58,651.70 825.03,651.53 835.49,651.35 845.94,651.17 856.39,650.99 866.85,650.81 877.30,650.63" fill="none" stroke="#000" stroke-width="2.0" stroke-linecap="round"/>
<polyline points="51.50,670.35 61.95,670.17 72.41,669.98 82.86,669.79 93.31,669.59 103.77,669.39 114.22,669.19 124.67,668.99 127.90,668.92" fill="none" stroke="#000" stroke-width="1.0"/>
<polyline points="127.90,668.92 135.13,668.78 145.58,668.57 156.03,668.36 166.48,668.14 176.94,667.92 187.39,667.70 197.84,667.47 208.30,667.25 218.75,667.02 229.20,666.79 239.66,666.55 250.11,666.32 260.56,666.08 271.02,665.84 281.47,665.59 291.92,665.35 302.38,665.10 312.83,664.86 323.28,664.61 333.74,664.36 344.19,664.10 354.64,663.85 365.09,663.60 375.55,663.34 386.00,663.08 396.45,662.82 406.91,662.57 417.36,662.31 427.81,662.05 438.27,661.79 448.72,661.52 459.17,661.26 469.63,661.00 480.08,660.74 490.53,660.48 500.99,660.21 511.44,659.95 521.89,659.69 532.35,659.43 542.80,659.16 553.25,658.90 563.71,658.64 574.16,658.38 584.61,658.12 595.06,657.86 605.52,657.60 615.97,657.35 626.42,657.09 636.88,656.83 647.33,656.58 657.78,656.33 668.24,656.07 678.69,655.82 689.14,655.58 699.60,655.33 710.05,655.08 720.50,654.84 730.96,654.60 741.41,654.36 751.86,654.12 762.32,653.88 772.77,653.65 783.22,653.42 793.67,653.19 804.13,652.96 814.58,652.74 825.03,652.52 835.49,652.30 845.94,652.08 856.39,651.87 866.85,651.66 877.30,651.45" fill="none" stroke="#000" stroke-width="3.1" stroke-linecap="round"/>
<line x1="51.5" y1="686.4" x2="73.5" y2="686.1" stroke="#0b4584" stroke-width="1.2"/>
<line x1="73.5" y1="686.2" x2="324.6" y2="684.0" stroke="#000" stroke-width="2.6" stroke-linecap="round"/>
<line x1="200" y1="684.1" x2="325.0" y2="682.6" stroke="#0b4584" stroke-width="1.4" stroke-linecap="round"/>
<circle cx="703.6" cy="579.4" r="5.6" fill="#f00"/>
<circle cx="703.6" cy="587.0" r="5.6" fill="#f00"/>
<circle cx="703.6" cy="655.5" r="5.6" fill="#f00"/>
<g stroke="#000" stroke-width="1.4" fill="none">
<line x1="51.3" y1="520.5" x2="958.9" y2="520.5"/>
<line x1="51.3" y1="519.8" x2="51.3" y2="687.4"/>
<line x1="958.9" y1="519.8" x2="958.9" y2="687.4"/>
<line x1="44" y1="687.4" x2="51.3" y2="687.4"/>
<line x1="958.9" y1="687.4" x2="966.3" y2="687.4"/>
<line x1="44" y1="645.70" x2="51.3" y2="645.70"/>
<line x1="44" y1="604.00" x2="51.3" y2="604.00"/>
<line x1="44" y1="562.30" x2="51.3" y2="562.30"/>
<line x1="958.9" y1="670.60" x2="966.3" y2="670.60"/>
<line x1="958.9" y1="653.80" x2="966.3" y2="653.80"/>
<line x1="958.9" y1="645.40" x2="966.3" y2="645.40"/>
<line x1="958.9" y1="637.00" x2="966.3" y2="637.00"/>
<line x1="958.9" y1="620.20" x2="966.3" y2="620.20"/>
<line x1="958.9" y1="603.40" x2="966.3" y2="603.40"/>
<line x1="958.9" y1="586.60" x2="966.3" y2="586.60"/>
<line x1="958.9" y1="569.80" x2="966.3" y2="569.80"/>
<line x1="958.9" y1="561.40" x2="966.3" y2="561.40"/>
</g>
<line x1="51.4" y1="687.4" x2="958.9" y2="687.4" stroke="#707070" stroke-width="1.1"/>
<g font-family="Liberation Sans, sans-serif" font-size="16">
<text x="19.8" y="534.8" fill="#000" >P</text>
<text x="7.6" y="554.8" textLength="34.6" lengthAdjust="spacing" fill="#000" >[kW]</text>
<text x="38.3" y="691.90" text-anchor="end" fill="#000" >0</text>
<text x="38.3" y="650.20" text-anchor="end" fill="#000" >2</text>
<text x="38.3" y="608.50" text-anchor="end" fill="#000" >4</text>
<text x="968.6" y="535" textLength="45" lengthAdjust="spacing" fill="#000" >NPSH</text>
<text x="979" y="555" fill="#000" >[m]</text>
<text x="971.2" y="692.20" fill="#000" >0</text>
<text x="971.2" y="675.40" fill="#000" >2</text>
<text x="971.2" y="658.60" fill="#000" >4</text>
<text x="971.2" y="650.20" fill="#000" >5</text>
<text x="971.2" y="641.80" fill="#000" >6</text>
<text x="971.2" y="625.00" fill="#000" >8</text>
<text x="971.2" y="608.20" fill="#000" >10</text>
<text x="971.2" y="591.40" fill="#000" >12</text>
<text x="752" y="553.2" textLength="195.9" lengthAdjust="spacing" fill="#0b4584" >P1 (motor+freq.converter)</text>
<text x="865.5" y="588.1" fill="#0b4584" >P2</text>
<text x="54.8" y="715.3" textLength="286.3" lengthAdjust="spacing" fill="#000" >P1 (motor+freq.converter) = 5.184 kW</text>
<text x="54.8" y="737.0" textLength="110.4" lengthAdjust="spacing" fill="#000" >P2 = 4.813 kW</text>
<text x="54.8" y="758.4" textLength="116" lengthAdjust="spacing" fill="#000" >NPSH = 3.81 m</text>
</g>
</svg>
</body></html>
